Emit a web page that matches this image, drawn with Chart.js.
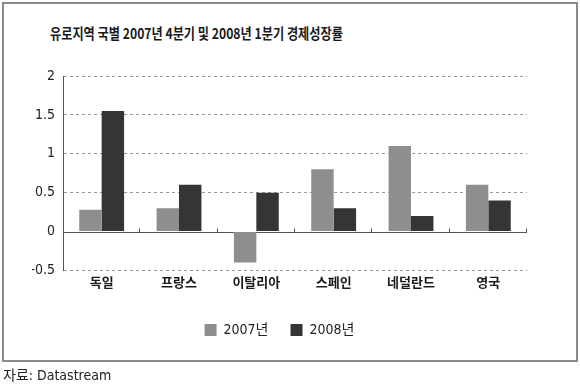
<!DOCTYPE html>
<html>
<head>
<meta charset="utf-8">
<script src="https://cdn.jsdelivr.net/npm/chart.js@4/dist/chart.umd.min.js"></script>
<style>
  html, body { margin:0; padding:0; background:#fff; }
  #wrap { position:relative; width:580px; height:387px; overflow:hidden; background:#fff; }
  #frame { position:absolute; left:2px; top:2px; width:572px; height:356px; border:2px solid #8a8a8a; }
  #title { position:absolute; left:50px; top:23px; font-family:"Noto Sans CJK KR", sans-serif; font-weight:bold; font-size:14.5px; color:#1a1a1a; white-space:nowrap; transform:scaleX(0.84); transform-origin:left top; line-height:20px; }
  #source { position:absolute; left:3px; top:366px; font-family:"Liberation Sans Narrow","DejaVu Sans Condensed","Noto Sans CJK KR",sans-serif; font-size:14px; color:#222; white-space:nowrap; line-height:18px; }
  canvas { position:absolute; left:0; top:0; }
</style>
</head>
<body>
<div id="wrap">
  <div id="frame"></div>
  <div id="title">유로지역 국별 2007년 4분기 및 2008년 1분기 경제성장률</div>
  <canvas id="c" width="580" height="387"></canvas>
  <div id="source">자료: Datastream</div>
</div>
<script>
const categories = ["독일", "프랑스", "이탈리아", "스페인", "네덜란드", "영국"];
const seriesNames = ["2007년", "2008년"];
const values2007 = [0.28, 0.30, -0.40, 0.80, 1.10, 0.60];
const values2008 = [1.55, 0.60, 0.50, 0.30, 0.20, 0.40];
const yTicks = [-0.5, 0, 0.5, 1, 1.5, 2];

const FONT = 'Liberation Sans Narrow, "DejaVu Sans Condensed", "Noto Sans CJK KR", sans-serif';

const zeroLine = {
  id: 'zeroLine',
  beforeDatasetsDraw(chart) {
    const {ctx, chartArea, scales} = chart;
    const y0 = Math.round(scales.y.getPixelForValue(0)) + 0.5;
    ctx.save();
    ctx.strokeStyle = '#555';
    ctx.lineWidth = 1;
    ctx.setLineDash([]);
    ctx.beginPath();
    ctx.moveTo(chartArea.left, y0);
    ctx.lineTo(chartArea.right, y0);
    const xs = scales.x;
    const n = categories.length;
    const w = (chartArea.right - chartArea.left) / n;
    for (let i = 1; i <= n; i++) {
      const x = Math.round(xs.getPixelForValue(i - 1) + w / 2) - 0.5;
      ctx.moveTo(x, y0);
      ctx.lineTo(x, y0 - 4);
    }
    ctx.stroke();
    ctx.restore();
  }
};

new Chart(document.getElementById('c'), {
  type: 'bar',
  data: {
    labels: categories,
    datasets: [
      { label: seriesNames[0], data: values2007, backgroundColor: '#8e8e8e', borderWidth: 0 },
      { label: seriesNames[1], data: values2008, backgroundColor: '#353535', borderWidth: 0 }
    ]
  },
  options: {
    responsive: false,
    animation: false,
    layout: { padding: { left: 32, right: 53, top: 76, bottom: 40 } },
    datasets: { bar: { categoryPercentage: 0.58, barPercentage: 1.0 } },
    plugins: {
      title: { display: false },
      tooltip: { enabled: false },
      legend: {
        position: 'bottom',
        labels: {
          boxWidth: 12, boxHeight: 12, padding: 22,
          color: '#222',
          font: { family: FONT, size: 14 }
        }
      }
    },
    scales: {
      x: {
        afterFit(scale) { scale.height += 7; },
        grid: { display: false, drawTicks: false },
        border: { display: false },
        ticks: { color: '#1a1a1a', padding: 4, font: { family: '"Noto Sans CJK KR", sans-serif', size: 13, weight: 'bold' } }
      },
      y: {
        min: -0.5, max: 2,
        afterFit(scale) { scale.width = 31; },
        afterBuildTicks(scale) { scale.ticks = yTicks.map(v => ({ value: v })); },
        ticks: {
          color: '#222', padding: 8, font: { family: FONT, size: 14 },
          callback: (v) => String(v)
        },
        grid: {
          drawTicks: false,
          color: (ctx) => (ctx.tick && ctx.tick.value === 0) ? 'rgba(0,0,0,0)' : '#9a9a9a',
          lineWidth: 1
        },
        border: { display: true, color: '#555', width: 1, dash: [3, 3] }
      }
    }
  },
  plugins: [zeroLine]
});
</script>
</body>
</html>
